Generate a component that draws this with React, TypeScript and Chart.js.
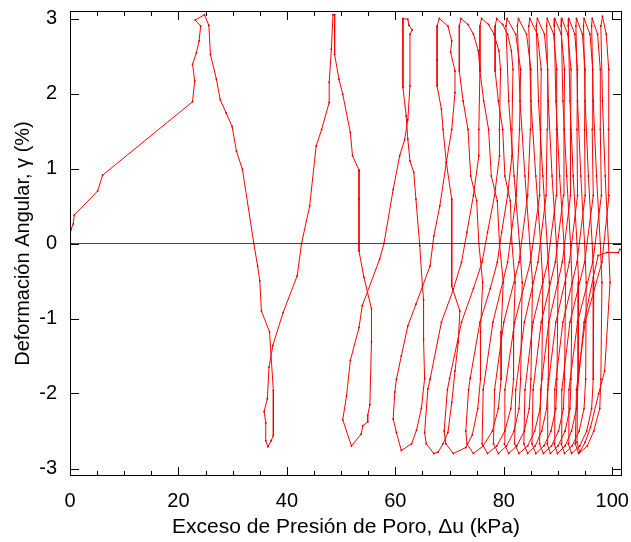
import React, { useEffect, useRef } from "react";
import { Chart, registerables } from "chart.js";

Chart.register(...registerables);

type Pt = [number, number];

// Δu (kPa), γ (%) pairs, one array per loading cycle
const cycle01: Pt[] = [
  [0, 0], [0, 0.1], [0.2, 0.19], [0.6, 0.26], [0.8, 0.38], [5.1, 0.7], [6.0, 0.91], [22.6, 1.89], [23.0, 2.17], [22.6, 2.39],
  [23.3, 2.54], [23.8, 2.7], [24.1, 2.9], [23.1, 2.98], [24.8, 3.05],
  [25.6, 2.91], [25.9, 2.52], [27.0, 2.19], [27.7, 1.92], [28.8, 1.74], [29.9, 1.56], [30.7, 1.23], [31.8, 0.99], [33.9, 0.0],
  [34.6, -0.3], [35.0, -0.5], [35.3, -0.9], [36.8, -1.18], [37.5, -1.96], [37.5, -2.56], [37.1, -2.63], [36.5, -2.71],
];
const cycle02: Pt[] = [
  [36.1, -2.63], [36.1, -2.39], [35.8, -2.24], [36.4, -2.07], [36.7, -1.65], [37.4, -1.36], [39.3, -0.92], [41.9, -0.43], [42.7, 0.0],
  [44.2, 0.5], [45.4, 1.3], [46.4, 1.52], [47.8, 1.88], [47.8, 2.15], [48.2, 2.59], [48.5, 3.05],
  [48.8, 3.05], [48.8, 2.52], [49.6, 2.19], [50.3, 1.99], [51.7, 1.48], [52.1, 1.17], [53.3, 0.98], [53.3, 0.59], [53.3, -0.1],
  [54.2, -0.45], [55.6, -0.87], [55.6, -1.31], [55.3, -2.15], [54.9, -2.29], [54.9, -2.38], [54.0, -2.43], [53.7, -2.54], [51.9, -2.7],
];
const cycle03: Pt[] = [
  [50.3, -2.35], [51.0, -2.03], [51.7, -1.56], [53.3, -1.12], [53.9, -0.83], [57.1, -0.21], [57.9, 0.0], [59.6, 0.72], [60.8, 1.17],
  [61.7, 1.38], [62.3, 1.65], [62.7, 2.1], [62.7, 2.79], [63.1, 2.85], [62.5, 2.91], [62.3, 2.99], [61.4, 3.0],
  [61.4, 2.95], [61.4, 2.08], [62.0, 1.7], [62.3, 1.39], [62.7, 1.1], [63.4, 0.95], [63.8, 0.59], [64.5, -0.03], [65.0, -0.57],
  [65.2, -0.75], [65.2, -1.28], [65.4, -1.8], [64.8, -2.2], [63.9, -2.49], [63.0, -2.67], [61.1, -2.76],
];
const cycle04: Pt[] = [
  [60.2, -2.52], [59.6, -2.34], [59.9, -1.98], [60.2, -1.81], [61.1, -1.5], [62.3, -1.1], [63.8, -0.81], [66.4, -0.3], [67.1, 0.1],
  [68.2, 0.5], [69.4, 1.08], [70.4, 1.52], [71.0, 2.01], [71.0, 2.3], [70.2, 2.55], [70.4, 2.7], [69.7, 2.9], [68.1, 3.0],
  [67.7, 2.9], [67.7, 2.45], [67.7, 2.1], [68.5, 1.79], [68.8, 1.52], [69.4, 1.08], [70.4, 0.59], [70.4, -0.57], [71.9, -0.9],
  [71.6, -1.32], [71.0, -1.7], [70.4, -2.12], [69.7, -2.52], [68.8, -2.67], [67.9, -2.78], [67.1, -2.8],
];
const cycle05: Pt[] = [
  [65.7, -2.67], [65.4, -2.52], [66.0, -1.94], [66.4, -1.81], [68.5, -1.05], [70.7, -0.61], [72.2, -0.25], [73.2, 0.15], [74.4, 0.64],
  [75.4, 1.17], [75.4, 1.52], [75.6, 2.32], [75.3, 2.57], [74.4, 2.79], [73.4, 2.92], [72.1, 3.0],
  [71.8, 2.9], [71.8, 2.3], [72.5, 1.9], [73.4, 1.52], [73.9, 0.9], [75.0, 0.57], [75.4, 0.0], [76.1, -0.52], [75.7, -1.18],
  [75.7, -1.81], [75.2, -2.2], [74.2, -2.55], [73.0, -2.72], [70.7, -2.8],
];
const cycle06: Pt[] = [
  [69.3, -2.67], [69.0, -2.5], [69.6, -1.95], [70.0, -1.8], [72.2, -1.05], [74.4, -0.6], [76.0, -0.25], [77.0, 0.15], [78.3, 0.64],
  [79.2, 1.17], [79.2, 1.52], [79.4, 2.32], [79.1, 2.57], [78.2, 2.79], [77.2, 2.92], [75.9, 3.0],
  [75.6, 2.9], [75.6, 2.3], [76.3, 1.9], [77.2, 1.52], [77.7, 0.9], [78.8, 0.57], [79.2, 0.0], [79.9, -0.52], [79.5, -1.18],
  [79.5, -1.81], [79.0, -2.2], [77.9, -2.5], [76.2, -2.7], [74.4, -2.8],
];
const cycle07: Pt[] = [
  [73.2, -2.67], [73.0, -2.5], [73.5, -1.95], [73.8, -1.8], [75.6, -1.05], [77.5, -0.6], [78.8, -0.25], [79.6, 0.15], [80.7, 0.64],
  [81.5, 1.17], [81.5, 1.52], [81.7, 2.32], [81.4, 2.57], [80.7, 2.79], [79.8, 2.92], [78.7, 3.0],
  [78.4, 2.9], [78.4, 2.3], [79.0, 1.9], [79.8, 1.52], [80.2, 0.9], [81.2, 0.57], [81.5, 0.0], [82.1, -0.52], [81.8, -1.18],
  [81.8, -1.81], [81.3, -2.2], [80.2, -2.5], [78.7, -2.7], [77.0, -2.8],
];
const cycle08: Pt[] = [
  [76.0, -2.67], [76.2, -1.95], [78.0, -1.05], [80.7, -0.25], [82.3, 0.64], [82.9, 1.52], [83.1, 2.32], [82.2, 2.79], [80.6, 3.0],
  [80.4, 2.9], [80.9, 1.9], [81.9, 0.9], [82.9, 0.0], [83.4, -0.52], [83.1, -1.81], [82.8, -2.2], [81.9, -2.5], [80.5, -2.7], [79.0, -2.8],
];
const cycle09: Pt[] = [
  [78.1, -2.67], [78.3, -1.95], [80.0, -1.05], [82.8, -0.25], [84.4, 0.64], [84.9, 1.52], [85.0, 2.32], [84.2, 2.79], [82.7, 3.0],
  [82.5, 2.9], [83.0, 1.9], [83.9, 0.9], [84.8, 0.0], [85.3, -0.52], [85.0, -1.81], [84.7, -2.2], [83.8, -2.5], [82.4, -2.7], [80.9, -2.8],
];
const cycle10: Pt[] = [
  [80.1, -2.67], [80.2, -1.95], [82.0, -1.05], [84.9, -0.25], [86.6, 0.64], [86.8, 1.52], [86.9, 2.32], [86.2, 2.79], [84.8, 3.0],
  [84.6, 2.9], [85.0, 1.9], [85.9, 0.9], [86.8, 0.0], [87.2, -0.52], [87.0, -1.81], [86.7, -2.2], [85.7, -2.5], [84.4, -2.7], [82.8, -2.8],
];
const cycle11: Pt[] = [
  [82.0, -2.67], [82.2, -1.95], [83.8, -1.05], [86.3, -0.25], [87.8, 0.64], [88.0, 1.52], [88.1, 2.32], [87.5, 2.79], [86.2, 3.0],
  [86.0, 2.9], [86.4, 1.9], [87.2, 0.9], [88.0, 0.0], [88.4, -0.52], [88.2, -1.81], [87.9, -2.2], [87.0, -2.5], [85.8, -2.7], [84.4, -2.8],
];
const cycle12: Pt[] = [
  [83.7, -2.67], [83.9, -1.95], [85.4, -1.05], [88.1, -0.25], [89.7, 0.64], [89.7, 1.52], [89.8, 2.32], [89.2, 2.79], [88.0, 3.0],
  [87.9, 2.9], [88.2, 1.9], [88.9, 0.9], [89.7, 0.0], [90.0, -0.52], [89.8, -1.81], [89.6, -2.2], [88.7, -2.5], [87.4, -2.7], [85.9, -2.8],
];
const cycle13: Pt[] = [
  [85.2, -2.67], [85.4, -1.95], [86.9, -1.05], [89.5, -0.25], [91.0, 0.64], [91.1, 1.52], [91.2, 2.32], [90.6, 2.79], [89.4, 3.0],
  [89.3, 2.9], [89.6, 1.9], [90.3, 0.9], [91.1, 0.0], [91.4, -0.52], [91.2, -1.81], [91.0, -2.2], [90.1, -2.5], [88.8, -2.7], [87.3, -2.8],
];
const cycle14: Pt[] = [
  [86.6, -2.67], [86.8, -1.95], [88.3, -1.05], [90.8, -0.25], [92.3, 0.64], [92.3, 1.52], [92.4, 2.32], [91.8, 2.79], [90.7, 3.0],
  [90.6, 2.9], [90.9, 1.9], [91.6, 0.9], [92.3, 0.0], [92.6, -0.52], [92.4, -1.81], [92.2, -2.2], [91.3, -2.5], [90.0, -2.7], [88.6, -2.8],
];
const cycle15: Pt[] = [
  [88.0, -2.67], [88.1, -1.95], [89.6, -1.05], [92.1, -0.25], [93.6, 0.64], [93.5, 1.52], [93.6, 2.32], [93.1, 2.79], [92.0, 3.0],
  [91.9, 2.9], [92.2, 1.9], [92.8, 0.9], [93.5, 0.0], [93.8, -0.52], [93.7, -1.81], [93.4, -2.2], [92.5, -2.5], [91.3, -2.7], [89.9, -2.8],
];
const cycle16: Pt[] = [
  [89.3, -2.67], [89.4, -1.95], [90.9, -1.05], [93.5, -0.25], [95.0, 0.64], [94.9, 1.52], [95.0, 2.32], [94.5, 2.79], [93.4, 3.0],
  [93.3, 2.9], [93.6, 1.9], [94.2, 0.9], [94.9, 0.0], [95.2, -0.52], [95.1, -1.81], [94.8, -2.2], [93.9, -2.5], [92.6, -2.7], [91.2, -2.8],
];
const cycle17: Pt[] = [
  [90.6, -2.67], [90.7, -1.95], [92.2, -1.05], [94.9, -0.25], [96.5, 0.64], [96.3, 1.52], [96.4, 2.32], [95.9, 2.79], [94.8, 3.0],
  [94.7, 2.9], [95.0, 1.9], [95.6, 0.9], [96.3, 0.0], [96.6, -0.52], [96.5, -1.81], [96.2, -2.2], [95.3, -2.5], [94.0, -2.7], [92.5, -2.8],
];
const cycle18: Pt[] = [
  [91.9, -2.67], [92.0, -1.95], [93.6, -1.05], [96.4, -0.25], [98.0, 0.64], [97.8, 1.52], [97.8, 2.32], [97.3, 2.79], [96.3, 3.0],
  [96.2, 2.9], [96.5, 1.9], [97.1, 0.9], [97.8, 0.0], [98.1, -0.52], [97.9, -1.81], [97.7, -2.2], [96.6, -2.5], [95.4, -2.7], [93.8, -2.8],
];
const cycle19: Pt[] = [
  [93.2, -2.67], [93.4, -1.95], [95.0, -1.05], [98.1, -0.25], [99.4, 0.64], [99.3, 1.52], [99.4, 2.32], [98.9, 2.79], [98.2, 3.03],
  [97.9, 2.9], [98.2, 1.9], [98.7, 0.9], [99.3, 0.0], [99.6, -0.52], [98.6, -1.7], [97.5, -2.0], [96.0, -2.45], [95.0, -2.65], [94.0, -2.78],
];
const finalBranch: Pt[] = [
  [93.5, -2.65], [93.6, -1.95], [94.8, -1.05], [96.5, -0.45], [97.4, -0.16], [99.0, -0.12], [101.1, -0.12], [101.4, -0.08], [101.8, -0.08],
];

const zeroLine: Pt[] = [[0, 0], [101.8, 0]];

const xMajorTicks = [0, 20, 40, 60, 80, 100];
const xMinorTicks = [5, 10, 15, 25, 30, 35, 45, 50, 55, 65, 70, 75, 85, 90, 95];
const yTicks = [-3, -2, -1, 0, 1, 2, 3];
const xRange = [0, 101.8];
const yRange = [-3.1, 3.1];

const xTitle = "Exceso de Presión de Poro, Δu (kPa)";
const yTitle = "Deformación Angular, γ (%)";

const FONT = "'Liberation Sans', Arial, Helvetica, sans-serif";

const path: Pt[] = [
  ...cycle01, ...cycle02, ...cycle03, ...cycle04, ...cycle05, ...cycle06, ...cycle07, ...cycle08, ...cycle09, ...cycle10,
  ...cycle11, ...cycle12, ...cycle13, ...cycle14, ...cycle15, ...cycle16, ...cycle17, ...cycle18, ...cycle19, ...finalBranch,
];

const frameAndTicks = {
  id: "frameAndTicks",
  afterDatasetsDraw(chart: any) {
    const { ctx, chartArea: a, scales } = chart;
    const x = scales.x;
    const y = scales.y;
    ctx.save();
    ctx.strokeStyle = "#000";
    ctx.lineWidth = 1;
    ctx.beginPath();
    const xt = (v: number, len: number) => {
      const px = Math.round(x.getPixelForValue(v)) + 0.5;
      ctx.moveTo(px, a.bottom);
      ctx.lineTo(px, a.bottom - len);
      ctx.moveTo(px, a.top);
      ctx.lineTo(px, a.top + len);
    };
    xMajorTicks.forEach((v) => xt(v, 9));
    xMinorTicks.forEach((v) => xt(v, 5));
    yTicks.forEach((v) => {
      const py = Math.round(y.getPixelForValue(v)) + 0.5;
      ctx.moveTo(a.left, py);
      ctx.lineTo(a.left + 9, py);
      ctx.moveTo(a.right, py);
      ctx.lineTo(a.right - 9, py);
    });
    ctx.stroke();
    ctx.strokeRect(Math.round(a.left) + 0.5, Math.round(a.top) + 0.5, Math.round(a.right - a.left) - 1, Math.round(a.bottom - a.top) - 1);
    ctx.restore();
  },
};

const noEdgePadding = (s: any) => {
  s.paddingTop = 0;
  s.paddingBottom = 0;
  s.paddingLeft = 0;
  s.paddingRight = 0;
};

export default function App() {
  const ref = useRef<HTMLCanvasElement | null>(null);
  useEffect(() => {
    if (!ref.current) return;
    const chart = new Chart(ref.current, {
      type: "scatter",
      data: {
        datasets: [
          {
            data: zeroLine.map(([x, y]) => ({ x, y })),
            showLine: true,
            borderColor: "rgba(40,40,40,0.85)",
            borderWidth: 1.2,
            pointRadius: 0,
            order: 0,
          },
          {
            data: path.map(([x, y]) => ({ x, y })),
            showLine: true,
            borderColor: "#ff0000",
            borderWidth: 1,
            pointRadius: 0.9,
            pointBorderWidth: 0,
            pointBackgroundColor: "#d00000",
            tension: 0,
            order: 1,
          },
        ],
      },
      options: {
        animation: false,
        responsive: false,
        events: [],
        layout: { padding: { top: 11, right: 9, left: 0, bottom: 0 } },
        plugins: { legend: { display: false }, tooltip: { enabled: false } },
        scales: {
          x: {
            type: "linear",
            min: xRange[0],
            max: xRange[1],
            afterBuildTicks: (s: any) => {
              s.ticks = xMajorTicks.map((v) => ({ value: v }));
            },
            afterFit: (s: any) => {
              s.height = 66;
              noEdgePadding(s);
            },
            grid: { display: false, drawTicks: false },
            border: { display: false },
            ticks: {
              font: { family: FONT, size: 20 },
              color: "#000",
              padding: 13,
              maxRotation: 0,
              autoSkip: false,
              callback: (v: any) => String(v),
            },
            title: {
              display: true,
              text: xTitle,
              font: { family: FONT, size: 21 },
              color: "#000",
              padding: { top: 0, bottom: 2 },
            },
          },
          y: {
            type: "linear",
            min: yRange[0],
            max: yRange[1],
            afterBuildTicks: (s: any) => {
              s.ticks = yTicks.map((v) => ({ value: v }));
            },
            afterFit: (s: any) => {
              s.width = 70;
              noEdgePadding(s);
            },
            grid: { display: false, drawTicks: false },
            border: { display: false },
            ticks: {
              font: { family: FONT, size: 20 },
              color: "#000",
              padding: 13,
              autoSkip: false,
              callback: (v: any) => String(v),
            },
            title: {
              display: true,
              text: yTitle,
              font: { family: FONT, size: 20 },
              color: "#000",
              padding: { top: 11, bottom: 0 },
            },
          },
        },
      },
      plugins: [frameAndTicks],
    });
    return () => chart.destroy();
  }, []);
  return (
    <div style={{ position: "fixed", left: 0, top: 0, width: 631, height: 542, background: "#fff" }}>
      <canvas ref={ref} width={631} height={542} style={{ display: "block", width: 631, height: 542 }} />
    </div>
  );
}
